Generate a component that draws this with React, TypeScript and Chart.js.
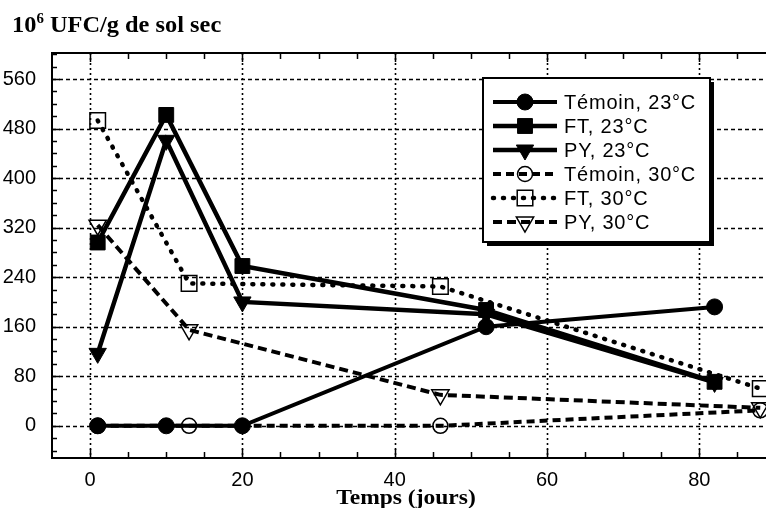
import React, { useEffect, useRef } from "react";
import { Chart, registerables } from "chart.js";
Chart.register(...registerables);

const days23 = [1, 10, 20, 52, 82];
const temoin23 = [0, 0, 0, 160, 192];
const ft23 = [296, 502, 258, 187, 71];
const py23 = [117, 461, 200, 180, 70];
const days30 = [1, 13, 46, 88];
const temoin30 = [0, 0, 0, 25];
const ft30 = [493, 230, 225, 60];
const py30 = [324, 155, 50, 29];
const xTicks = [0, 20, 40, 60, 80];
const yTicks = [0, 80, 160, 240, 320, 400, 480, 560];
const seriesLabels = ["Témoin, 23°C", "FT, 23°C", "PY, 23°C", "Témoin, 30°C", "FT, 30°C", "PY, 30°C"];

const toXY = (xs: number[], ys: number[]) => xs.map((x, i) => ({ x, y: ys[i] }));

function drawMarker(ctx: CanvasRenderingContext2D, style: string, x: number, y: number, r: number, fill: boolean, bw: number) {
  ctx.save();
  ctx.setLineDash([]);
  ctx.beginPath();
  if (style === "circle") {
    ctx.arc(x, y, r, 0, Math.PI * 2);
  } else if (style === "rect") {
    const s = r * Math.SQRT1_2;
    ctx.rect(x - s, y - s, 2 * s, 2 * s);
  } else {
    const a = [Math.PI / 2, Math.PI / 2 + (2 * Math.PI) / 3, Math.PI / 2 + (4 * Math.PI) / 3];
    a.forEach((ang, i) => {
      const px = x + Math.cos(ang) * r;
      const py = y + Math.sin(ang) * r;
      if (i === 0) ctx.moveTo(px, py);
      else ctx.lineTo(px, py);
    });
    ctx.closePath();
  }
  if (fill) {
    ctx.fillStyle = "#000";
    ctx.fill();
  }
  ctx.lineWidth = bw;
  ctx.strokeStyle = "#000";
  ctx.stroke();
  ctx.restore();
}

const framePlugin = {
  id: "framePlugin",
  beforeDatasetsDraw(chart: any) {
    const { ctx, chartArea, scales } = chart;
    const { left, right, top, bottom } = chartArea;
    const xs = scales.x;
    const ys = scales.y;
    ctx.save();
    ctx.strokeStyle = "#000";
    ctx.lineWidth = 1.6;
    ctx.setLineDash([4, 3]);
    yTicks.forEach((v) => {
      const py = Math.round(ys.getPixelForValue(v)) + 0.5;
      ctx.beginPath();
      ctx.moveTo(left, py);
      ctx.lineTo(right, py);
      ctx.stroke();
    });
    ctx.setLineDash([2, 3]);
    xTicks.forEach((v) => {
      const px = Math.round(xs.getPixelForValue(v)) + 0.5;
      ctx.beginPath();
      ctx.moveTo(px, top);
      ctx.lineTo(px, bottom);
      ctx.stroke();
    });
    ctx.setLineDash([]);
    ctx.lineWidth = 2;
    ctx.beginPath();
    ctx.moveTo(right, top);
    ctx.lineTo(left, top);
    ctx.lineTo(left, bottom);
    ctx.lineTo(right, bottom);
    ctx.stroke();
    ctx.lineWidth = 1.5;
    for (let v = 0; v <= 90; v += 5) {
      const px = Math.round(xs.getPixelForValue(v)) + 0.5;
      const len = v % 20 === 0 ? 9 : 6;
      ctx.beginPath();
      ctx.moveTo(px, bottom);
      ctx.lineTo(px, bottom - len);
      ctx.moveTo(px, top);
      ctx.lineTo(px, top + len);
      ctx.stroke();
    }
    for (let v = -40; v <= 600; v += 20) {
      const py = Math.round(ys.getPixelForValue(v)) + 0.5;
      const len = v % 80 === 0 ? 8 : 5;
      ctx.beginPath();
      ctx.moveTo(left, py);
      ctx.lineTo(left + len, py);
      ctx.stroke();
    }
    ctx.restore();
  },
};

const legendPlugin = {
  id: "boxLegend",
  afterDraw(chart: any) {
    const ctx: CanvasRenderingContext2D = chart.ctx;
    const L = 483, T = 78, R = 710, B = 242;
    ctx.save();
    ctx.fillStyle = "#000";
    ctx.fillRect(L + 4, T + 4, R - L, B - T);
    ctx.fillStyle = "#fff";
    ctx.fillRect(L, T, R - L, B - T);
    ctx.lineWidth = 2;
    ctx.strokeStyle = "#000";
    ctx.strokeRect(L, T, R - L, B - T);
    chart.data.datasets.forEach((ds: any, i: number) => {
      const y = 102 + i * 24;
      ctx.save();
      ctx.setLineDash(ds.borderDash || []);
      ctx.lineCap = ds.borderCapStyle || "butt";
      ctx.lineWidth = ds.borderWidth;
      ctx.strokeStyle = "#000";
      ctx.beginPath();
      ctx.moveTo(493, y);
      ctx.lineTo(557, y);
      ctx.stroke();
      ctx.restore();
      drawMarker(ctx, ds.pointStyle, 525, y, ds.pointRadius, ds.pointBackgroundColor === "#000", ds.pointBorderWidth);
      ctx.fillStyle = "#000";
      ctx.font = '20px "Liberation Sans", Arial, sans-serif';
      (ctx as any).letterSpacing = "0.8px";
      ctx.textBaseline = "middle";
      ctx.textAlign = "left";
      ctx.fillText(ds.label, 564, y + 1);
    });
    ctx.restore();
  },
};

export default function App() {
  const canvasRef = useRef<HTMLCanvasElement | null>(null);
  useEffect(() => {
    if (!canvasRef.current) return;
    const common = { borderColor: "#000", pointBorderColor: "#000", showLine: true, fill: false, tension: 0 };
    const chart = new Chart(canvasRef.current, {
      type: "scatter",
      data: {
        datasets: [
          { ...common, label: seriesLabels[0], data: toXY(days23, temoin23), borderWidth: 4, pointStyle: "circle", pointRadius: 8, pointBackgroundColor: "#000", pointBorderWidth: 1 },
          { ...common, label: seriesLabels[1], data: toXY(days23, ft23), borderWidth: 4.5, pointStyle: "rect", pointRadius: 10.5, pointBackgroundColor: "#000", pointBorderWidth: 1 },
          { ...common, label: seriesLabels[2], data: toXY(days23, py23), borderWidth: 4.5, pointStyle: "triangle", pointRotation: 180, pointRadius: 10, pointBackgroundColor: "#000", pointBorderWidth: 1 },
          { ...common, label: seriesLabels[3], data: toXY(days30, temoin30), borderWidth: 4, borderDash: [8, 5], pointStyle: "circle", pointRadius: 7.5, pointBackgroundColor: "rgba(0,0,0,0)", pointBorderWidth: 1.5 },
          { ...common, label: seriesLabels[4], data: toXY(days30, ft30), borderWidth: 4.5, borderDash: [1, 9], borderCapStyle: "round", pointStyle: "rect", pointRadius: 11, pointBackgroundColor: "rgba(0,0,0,0)", pointBorderWidth: 1.5 },
          { ...common, label: seriesLabels[5], data: toXY(days30, py30), borderWidth: 4, borderDash: [9, 5], pointStyle: "triangle", pointRotation: 180, pointRadius: 10, pointBackgroundColor: "rgba(0,0,0,0)", pointBorderWidth: 1.5 },
        ] as any,
      },
      options: {
        animation: false,
        responsive: false,
        maintainAspectRatio: false,
        layout: { padding: { top: 53, right: 5, left: 0, bottom: 0 } },
        plugins: { legend: { display: false }, tooltip: { enabled: false }, title: { display: false } },
        scales: {
          x: {
            type: "linear",
            min: -5,
            max: 90,
            grid: { display: false, drawTicks: false },
            border: { display: false },
            afterBuildTicks: (axis: any) => { axis.ticks = xTicks.map((v) => ({ value: v })); },
            afterFit: (axis: any) => { axis.height = 50; },
            ticks: { color: "#000", padding: 10, font: { family: '"Liberation Sans", Arial, sans-serif', size: 20 }, maxRotation: 0 },
          },
          y: {
            type: "linear",
            min: -52,
            max: 602,
            grid: { display: false, drawTicks: false },
            border: { display: false },
            afterBuildTicks: (axis: any) => { axis.ticks = yTicks.map((v) => ({ value: v })); },
            afterFit: (axis: any) => { axis.width = 52; },
            ticks: { color: "#000", padding: 16, font: { family: '"Liberation Sans", Arial, sans-serif', size: 20 } },
          },
        },
      },
      plugins: [framePlugin, legendPlugin],
    });
    return () => chart.destroy();
  }, []);

  return (
    <div style={{ position: "fixed", left: 0, top: 0, width: 766, height: 508, overflow: "hidden", background: "#fff" }}>
      <canvas ref={canvasRef} width={788} height={508} style={{ position: "absolute", left: 0, top: 0, width: 788, height: 508 }} />
      <div
        style={{
          position: "absolute",
          left: 12,
          top: 13,
          fontFamily: '"Liberation Serif", "Times New Roman", serif',
          fontWeight: "bold",
          fontSize: 23,
          lineHeight: 1,
          whiteSpace: "nowrap",
          color: "#000",
          transform: "scaleX(1.06)",
          transformOrigin: "left top",
        }}
      >
        10<sup style={{ fontSize: 14, verticalAlign: "9px", lineHeight: 0 }}>6</sup> UFC/g de sol sec
      </div>
      <div
        style={{
          position: "absolute",
          left: 406,
          top: 487,
          transform: "translateX(-50%) scaleX(1.12)",
          fontFamily: '"Liberation Serif", "Times New Roman", serif',
          fontWeight: "bold",
          fontSize: 21,
          lineHeight: 1,
          whiteSpace: "nowrap",
          color: "#000",
        }}
      >
        Temps (jours)
      </div>
    </div>
  );
}
